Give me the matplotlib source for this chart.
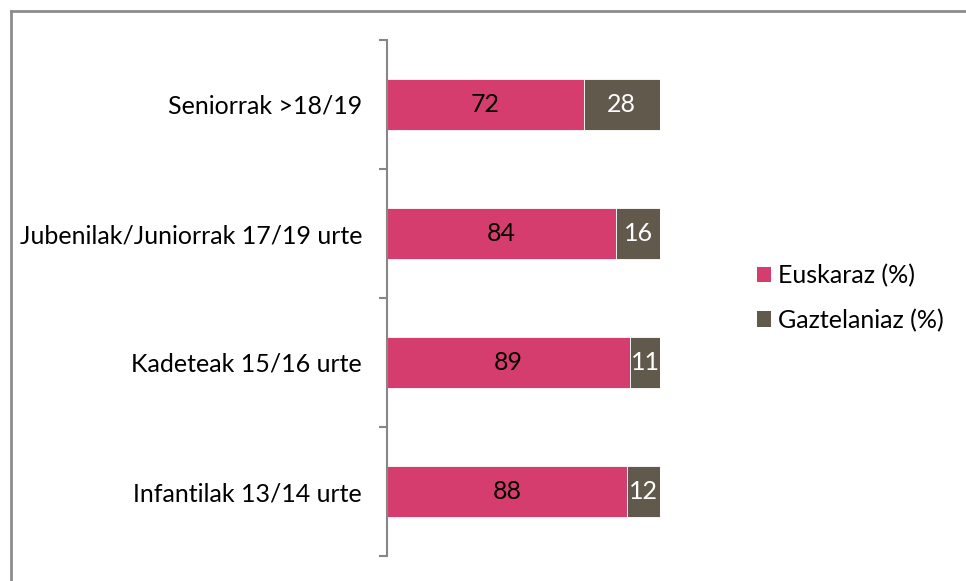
import matplotlib
matplotlib.use("Agg")
import matplotlib.pyplot as plt
from matplotlib.patches import Patch
from matplotlib.lines import Line2D
import numpy as np

categories = ["Seniorrak >18/19", "Jubenilak/Juniorrak 17/19 urte", "Kadeteak 15/16 urte", "Infantilak 13/14 urte"]
euskaraz = [72, 84, 89, 88]
gaztelaniaz = [28, 16, 11, 12]
series_names = ["Euskaraz (%)", "Gaztelaniaz (%)"]
colors = ["#D63D6F", "#62594D"]

plt.rcParams['font.family'] = ['Lato', 'DejaVu Sans']
FS = 18

fig = plt.figure(figsize=(9.66, 5.81), dpi=100)
ax = fig.add_axes([387/966, 1-556/581, (660-387)/966, (556-40)/581])

y = np.arange(len(categories))
h = 0.40
b1 = ax.barh(y, euskaraz, height=h, color=colors[0], edgecolor="white", linewidth=0.6)
b2 = ax.barh(y, gaztelaniaz, left=euskaraz, height=h, color=colors[1], edgecolor="white", linewidth=0.6)
for rect, v in zip(b1, euskaraz):
    ax.text(rect.get_x()+rect.get_width()/2, rect.get_y()+rect.get_height()/2, str(v),
            ha="center", va="center", color="black", fontsize=FS)
for rect, v in zip(b2, gaztelaniaz):
    ax.text(rect.get_x()+rect.get_width()/2, rect.get_y()+rect.get_height()/2, str(v),
            ha="center", va="center", color="white", fontsize=FS)

ax.set_xlim(0, 100)
ax.set_ylim(len(categories)-0.5, -0.5)
ax.set_yticks(y)
ax.set_yticklabels(categories, fontsize=FS)
ax.set_yticks(np.arange(-0.5, len(categories), 1.0), minor=True)
ax.tick_params(axis="y", which="major", length=0, pad=18)
ax.tick_params(axis="y", which="minor", length=6, width=1.5, color="#868686", direction="out")
ax.set_xticks([])
for s in ["top", "right", "bottom"]:
    ax.spines[s].set_visible(False)
ax.spines["left"].set_color("#868686")
ax.spines["left"].set_linewidth(1.5)
ax.patch.set_alpha(0)

handles = [Patch(facecolor=c, edgecolor="none") for c in colors]
fig.legend(handles, series_names, loc="center left", bbox_to_anchor=(757/966, 1-298/581),
           frameon=False, fontsize=FS, handlelength=0.56, handleheight=0.56,
           handletextpad=0.3, labelspacing=0.85, borderpad=0, borderaxespad=0)

# outer frame (top and left edges visible)
fig.add_artist(Line2D([10.5/966, 10.5/966], [0, 1-10.5/581], transform=fig.transFigure, color="#8C8C8C", linewidth=2))
fig.add_artist(Line2D([10.5/966, 1], [1-10.5/581, 1-10.5/581], transform=fig.transFigure, color="#8C8C8C", linewidth=2))

fig.savefig("out.png", dpi=100)
